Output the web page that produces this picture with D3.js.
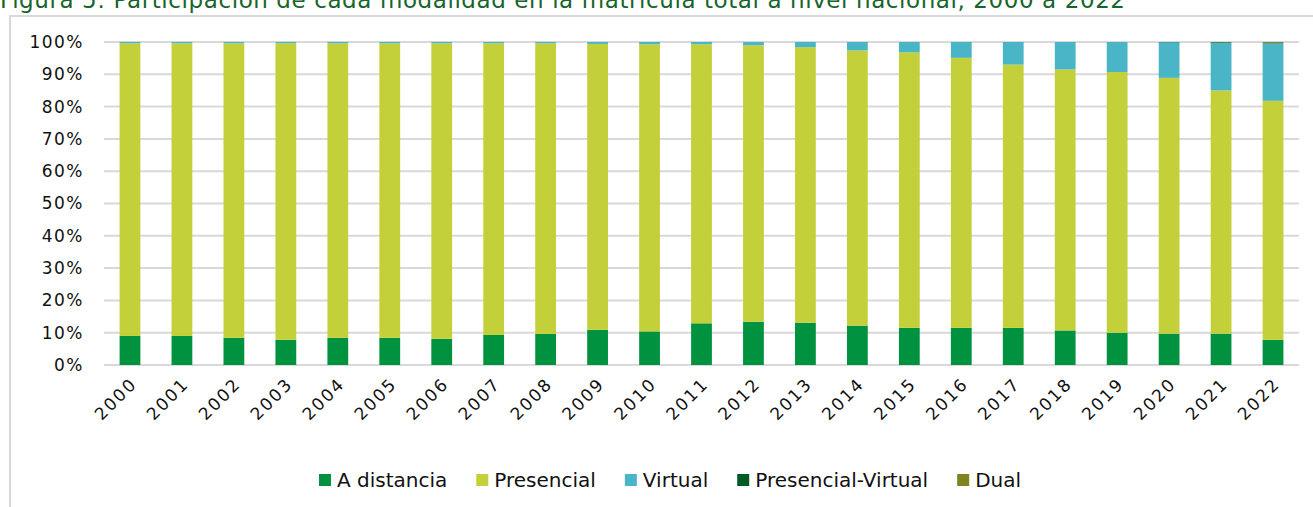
<!DOCTYPE html>
<html><head><meta charset="utf-8">
<script src="https://cdn.jsdelivr.net/npm/d3@7"></script>
<style>body{margin:0;background:#fff;} svg{display:block;}</style>
</head><body>
<svg id="c" width="1313" height="507"></svg>
<script>
const titleText = "Figura 5: Participación de cada modalidad en la matrícula total a nivel nacional, 2000 a 2022";
const years = ["2000","2001","2002","2003","2004","2005","2006","2007","2008","2009","2010","2011","2012","2013","2014","2015","2016","2017","2018","2019","2020","2021","2022"];
const seriesNames = ["A distancia","Presencial","Virtual","Presencial-Virtual","Dual"];
const aDistancia = [9.0,9.0,8.4,7.8,8.4,8.4,8.1,9.3,9.6,10.9,10.4,12.9,13.4,13.1,12.2,11.5,11.5,11.5,10.7,10.0,9.7,9.7,7.8];
const presencial = [90.6,90.6,91.2,91.8,91.2,91.2,91.5,90.3,90.0,88.5,88.9,86.4,85.6,85.3,85.2,85.3,83.6,81.5,80.8,80.7,79.2,75.3,74.0];
const virtual_ = [0.4,0.4,0.4,0.4,0.4,0.4,0.4,0.4,0.4,0.6,0.7,0.7,1.0,1.6,2.6,3.2,4.9,7.0,8.5,9.3,11.0,14.7,17.8];
const presencialVirtual = [0,0,0,0,0,0,0,0,0,0,0,0,0,0,0,0,0,0,0,0,0.1,0.2,0.1];
const dual = [0,0,0,0,0,0,0,0,0,0,0,0,0,0,0,0,0,0,0,0,0,0.1,0.3];
const yTicks = [0,10,20,30,40,50,60,70,80,90,100];
const colors = ["#00923f","#c3d03a","#4ab5c6","#005a28","#7b8421"];

const rows = years.map((y,i)=>({year:y,"A distancia":aDistancia[i],"Presencial":presencial[i],"Virtual":virtual_[i],"Presencial-Virtual":presencialVirtual[i],"Dual":dual[i]}));
const stacked = d3.stack().keys(seriesNames)(rows);

const svg = d3.select("#c");
const FONT = "'DejaVu Sans', sans-serif";

// frame
svg.append("rect").attr("x",10).attr("y",16).attr("width",1400).attr("height",600)
  .attr("fill","none").attr("stroke","#d9d9d9").attr("stroke-width",2);

// title
svg.append("text").attr("x",0).attr("y",8).text(titleText)
  .attr("font-family",FONT).attr("font-size",23).attr("fill","#17652b")
  .attr("textLength",1125).attr("lengthAdjust","spacing");

const x = d3.scaleBand().domain(years).range([104,1299]).paddingInner(0.6).paddingOuter(0.3);
const y = d3.scaleLinear().domain([0,100]).range([365,42]);

// gridlines
svg.append("g").selectAll("line").data(yTicks).join("line")
  .attr("x1",104).attr("x2",1299).attr("y1",d=>y(d)).attr("y2",d=>y(d))
  .attr("stroke","#d9d9d9").attr("stroke-width",2);

// y axis
const ya = svg.append("g").attr("transform","translate(84,0)")
  .call(d3.axisLeft(y).tickValues(yTicks).tickSize(0).tickPadding(0).tickFormat(d=>d+"%"));
ya.select(".domain").remove();
ya.selectAll("text").attr("font-family",FONT).attr("font-size",17).attr("fill","#111").attr("letter-spacing",1.5);

// bars
svg.append("g").selectAll("g").data(stacked).join("g")
  .attr("fill",(d,i)=>colors[i])
  .selectAll("rect").data(d=>d).join("rect")
  .attr("x",d=>x(d.data.year)).attr("width",x.bandwidth())
  .attr("y",d=>y(d[1])).attr("height",d=>Math.max(0,y(d[0])-y(d[1])));

// x axis
const xa = svg.append("g").attr("transform","translate(0,372)")
  .call(d3.axisBottom(x).tickSize(0).tickPadding(0));
xa.select(".domain").remove();
xa.selectAll("text").attr("font-family",FONT).attr("font-size",17).attr("fill","#111").attr("letter-spacing",2)
  .attr("text-anchor","end").attr("dy",0).attr("transform","translate(8,13) rotate(-45)");

// legend
const leg = svg.append("g").attr("transform","translate(319,480)");
let lx = 0;
seriesNames.forEach((n,i)=>{
  const g = leg.append("g").attr("transform",`translate(${lx},0)`);
  g.append("rect").attr("x",0).attr("y",-6).attr("width",12).attr("height",12).attr("fill",colors[i]);
  const t = g.append("text").attr("x",18).attr("y",0).attr("dy","0.36em").text(n)
    .attr("font-family",FONT).attr("font-size",20).attr("fill","#111");
  lx += 18 + t.node().getComputedTextLength() + 29;
});
</script>
</body></html>
